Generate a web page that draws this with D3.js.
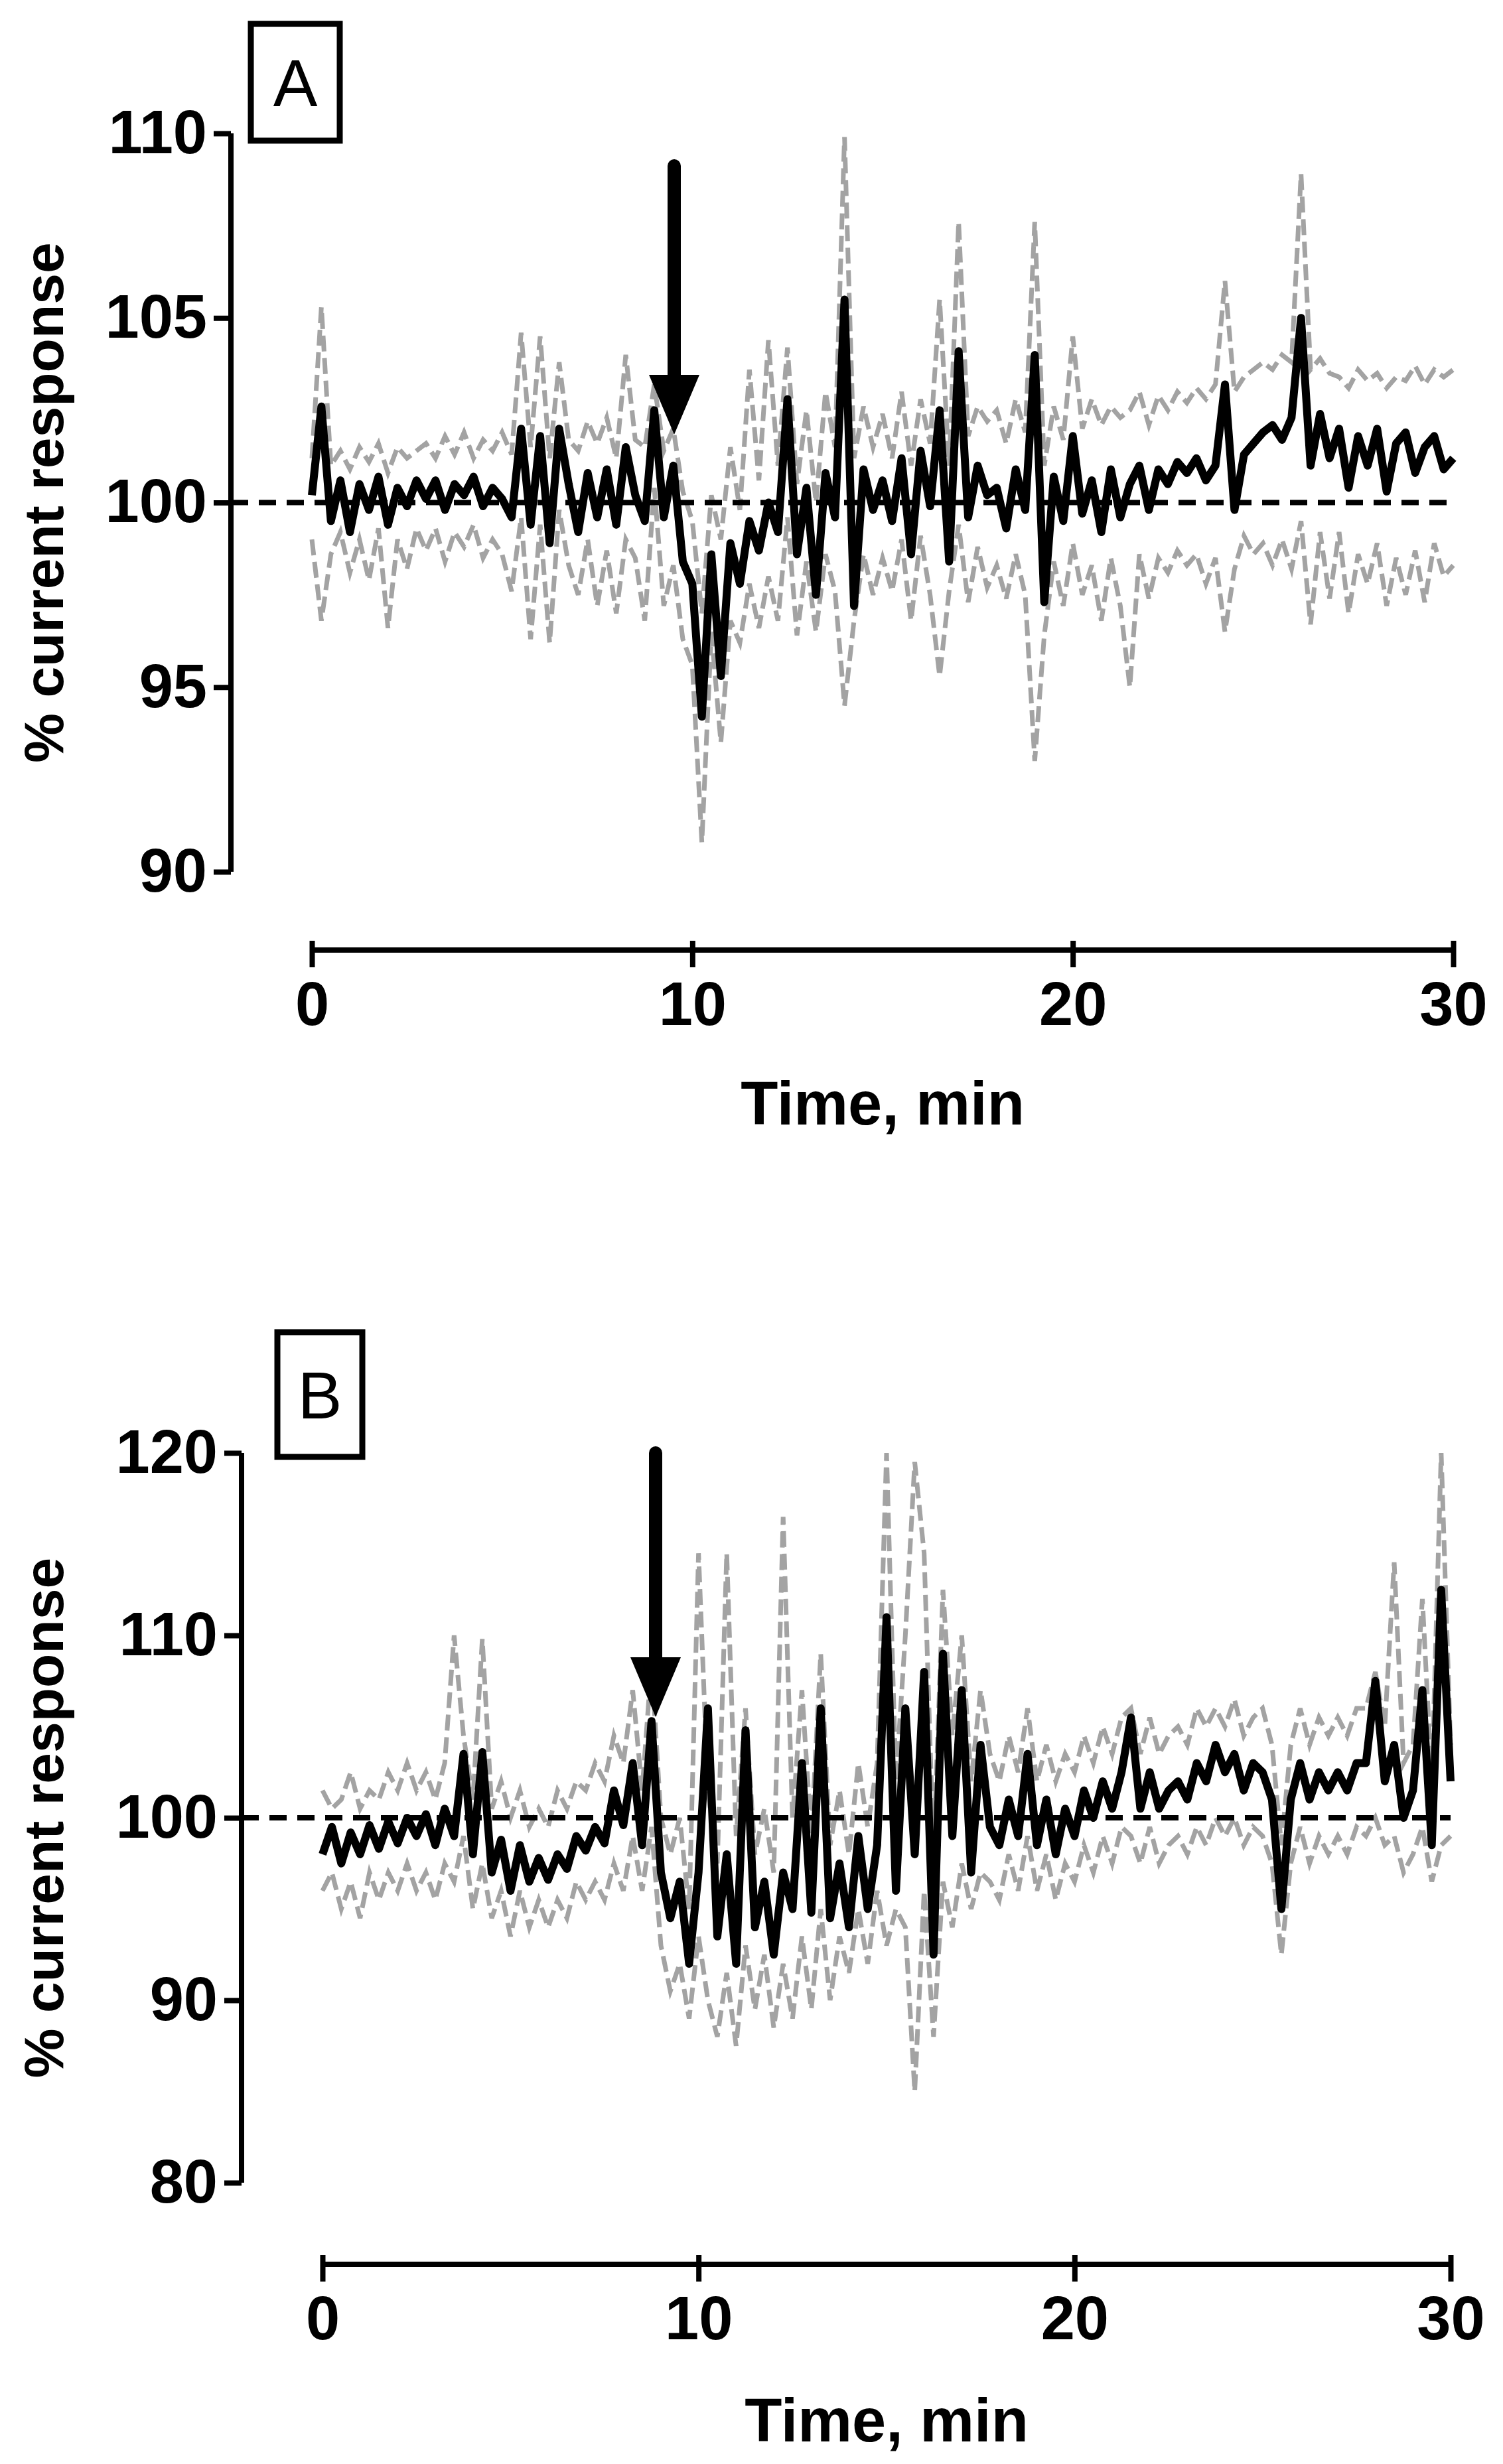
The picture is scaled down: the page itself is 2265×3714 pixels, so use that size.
<!DOCTYPE html>
<html><head><meta charset="utf-8">
<script src="https://cdn.jsdelivr.net/npm/d3@7"></script>
<style>body{margin:0;background:#fff}</style></head>
<body><svg id="c" width="2265" height="3714"></svg>
<script>
const timeStep = 0.25;
const meanA = [100.2,102.6,99.5,100.6,99.2,100.5,99.8,100.7,99.4,100.4,99.9,100.6,
100.1,100.6,99.8,100.5,100.2,100.7,99.9,100.4,100.1,99.6,102.0,99.4,
101.8,98.9,102.0,100.5,99.2,100.8,99.6,100.9,99.4,101.5,100.2,99.5,
102.5,99.6,101.0,98.4,97.8,94.2,98.6,95.3,98.9,97.8,99.5,98.7,
100.0,99.2,102.8,98.6,100.4,97.5,100.8,99.6,105.5,97.2,100.9,99.8,
100.6,99.5,101.2,98.6,101.4,99.9,102.5,98.4,104.1,99.6,101.0,100.2,
100.4,99.3,100.9,99.8,104.0,97.3,100.7,99.5,101.8,99.7,100.6,99.2,
100.9,99.6,100.5,101.0,99.8,100.9,100.5,101.1,100.8,101.2,100.6,101.0,
103.2,99.8,101.3,101.6,101.9,102.1,101.7,102.3,105.0,101.0,102.4,101.2,
102.0,100.4,101.8,101.0,102.0,100.3,101.6,101.9,100.8,101.5,101.8,100.9,101.2];
const upperA = [101.2,105.3,101.0,101.4,100.9,101.5,101.1,101.6,100.8,101.5,101.2,101.4,
101.6,101.2,101.8,101.3,101.9,101.2,101.7,101.4,101.9,101.3,104.6,101.5,
104.5,101.2,103.8,101.7,101.4,102.2,101.6,102.3,101.2,104.0,101.7,101.5,
103.2,101.4,102.0,100.3,99.5,97.0,100.2,99.0,101.5,99.8,103.6,100.6,
104.4,101.0,104.2,100.5,102.5,100.0,103.0,101.5,109.9,101.2,102.6,101.5,
102.4,101.2,103.0,101.0,102.8,101.6,105.5,101.0,107.6,101.8,102.6,102.2,
102.5,101.6,102.8,101.9,107.6,101.0,102.6,101.7,104.5,102.0,102.8,102.1,
102.6,102.3,102.5,103.0,102.1,102.9,102.5,103.0,102.7,103.1,102.8,103.2,
106.0,103.0,103.4,103.6,103.8,103.6,104.0,103.8,108.9,103.6,103.9,103.5,
103.4,103.1,103.6,103.3,103.5,103.1,103.4,103.3,103.7,103.2,103.6,103.4,103.6];
const lowerA = [99.0,96.8,98.6,99.2,98.1,99.0,97.9,99.3,96.6,99.0,98.2,99.3,
98.7,99.3,98.4,99.2,98.8,99.4,98.5,99.0,98.6,97.6,99.6,96.3,
99.4,96.2,99.8,98.3,97.5,99.0,97.2,98.7,97.0,99.0,98.5,96.8,
100.4,97.2,98.3,96.3,95.6,90.8,96.5,93.5,96.8,96.2,97.8,96.6,
98.0,96.8,99.6,96.4,98.4,96.5,98.6,97.6,94.5,96.8,98.6,97.5,
98.5,97.6,99.0,96.8,99.1,97.5,95.3,97.6,99.4,97.3,98.8,97.7,
98.3,97.4,98.6,97.5,93.0,96.4,98.4,97.2,98.9,97.5,98.3,96.8,
98.5,97.2,95.0,98.6,97.4,98.5,98.1,98.7,98.3,98.6,97.8,98.5,
96.5,98.2,99.1,98.6,98.9,98.3,99.0,98.2,99.5,96.7,99.2,97.4,
99.2,97.0,98.6,97.8,98.9,97.2,98.5,97.5,98.7,97.3,98.9,98.0,98.3];
const meanB = [98.0,99.5,97.5,99.2,98.0,99.6,98.3,99.8,98.6,100.0,99.0,100.2,
98.5,100.5,99.0,103.5,98.0,103.6,97.0,98.8,96.0,98.5,96.5,97.8,
96.6,98.0,97.2,99.0,98.2,99.5,98.6,101.5,99.6,103.0,98.5,105.3,
97.0,94.5,96.5,92.0,97.0,106.0,93.5,98.0,92.0,104.8,94.0,96.5,
92.5,97.0,95.0,103.0,94.8,106.0,94.5,97.5,94.0,99.0,95.0,98.5,
111.0,96.0,106.0,98.0,108.0,92.5,109.0,99.0,107.0,97.0,104.0,99.5,
98.5,101.0,99.0,103.5,98.5,101.0,98.0,100.5,99.0,101.5,100.0,102.0,
100.5,102.5,105.5,100.5,102.5,100.5,101.5,102.0,101.0,103.0,102.0,104.0,
102.5,103.5,101.5,103.0,102.5,101.0,95.0,101.0,103.0,101.0,102.5,101.5,
102.5,101.5,103.0,103.0,107.5,102.0,104.0,100.0,101.5,107.0,98.5,112.5,102.0];
const upperB = [101.5,100.5,101.0,102.5,100.5,101.5,101.0,102.5,101.5,103.0,101.5,102.5,
101.0,103.0,110.0,104.5,101.0,109.8,100.5,102.0,100.0,101.5,99.5,100.5,
99.5,101.5,100.5,102.0,101.5,103.0,102.0,104.5,103.0,107.0,101.5,108.5,
100.0,98.0,100.0,95.0,114.5,101.5,97.5,114.5,99.0,106.0,98.0,100.5,
97.0,116.5,100.0,107.0,99.0,109.0,98.5,101.5,98.0,103.0,99.5,103.0,
120.0,102.0,110.0,119.5,114.5,98.0,112.5,104.5,110.0,102.0,107.0,103.5,
102.0,104.5,102.5,106.0,102.0,104.0,102.0,103.5,102.5,104.5,103.0,105.0,
103.5,105.5,106.0,103.5,105.5,103.5,104.5,105.0,104.0,106.0,105.0,106.0,
105.0,106.5,104.5,105.5,106.0,104.0,98.5,104.0,106.0,104.0,105.5,104.5,
105.5,104.5,106.0,106.0,108.0,105.0,114.0,103.0,104.0,112.0,102.0,120.0,104.0];
const lowerB = [96.0,97.0,95.0,96.5,94.5,97.0,95.5,97.0,96.0,97.5,96.0,97.0,
95.5,97.5,96.5,99.0,95.0,97.5,94.5,96.0,93.5,96.0,94.0,95.5,
94.0,95.5,94.5,96.5,95.5,96.5,95.5,97.5,96.0,99.0,96.0,99.5,
93.0,90.5,92.0,89.0,93.5,90.0,88.0,91.5,87.5,93.0,89.5,92.5,
88.5,92.0,89.0,93.5,89.5,95.0,90.0,93.5,91.5,95.0,92.0,96.0,
93.0,95.0,94.0,85.0,96.0,88.0,96.5,94.0,97.5,95.0,97.0,96.5,
95.5,98.0,96.0,99.0,96.0,98.0,95.5,97.5,96.5,98.5,97.0,99.0,
97.5,99.5,99.0,97.5,99.5,97.5,98.5,99.0,98.0,99.5,98.5,100.0,
99.0,100.0,98.5,99.5,99.0,97.5,92.5,97.5,99.5,97.5,99.0,98.0,
99.0,98.0,99.5,99.0,100.0,98.5,99.0,97.0,98.0,99.5,96.5,98.5,99.0];
const xTicks = [0,10,20,30];
const yTicksA = [90,95,100,105,110];
const yTicksB = [80,90,100,110,120];

const svg = d3.select("#c");
const tickFont = "'Liberation Sans Narrow','Arial Narrow',sans-serif";
const titleFont = "'Liberation Sans',Arial,sans-serif";

function panel(o){
  const x = d3.scaleLinear().domain([0,30]).range([o.x0,o.x1]);
  const y = d3.scaleLinear().domain(o.yDom).range([o.yBot,o.yTop]);
  const g = svg.append("g");
  const line = d3.line().x((d,i)=>x(i*timeStep)).y(d=>y(d));
  [o.upper,o.lower].forEach(s=>g.append("path").attr("d",line(s)).attr("fill","none")
     .attr("stroke","#a3a3a3").attr("stroke-width",7).attr("stroke-dasharray","24,10"));
  g.append("path").attr("d",line(o.mean)).attr("fill","none").attr("stroke","#000")
   .attr("stroke-width",12).attr("stroke-linejoin","round");
  g.append("line").attr("x1",o.yAxisX).attr("x2",x(30)).attr("y1",y(100)).attr("y2",y(100))
   .attr("stroke","#000").attr("stroke-width",8).attr("stroke-dasharray","26,16");
  const ya = g.append("g").attr("transform",`translate(${o.yAxisX},0)`)
    .call(d3.axisLeft(y).tickValues(o.yTicks).tickSize(26).tickPadding(10).tickFormat(d3.format("d")));
  ya.select(".domain").attr("stroke-width",8).attr("d",`M0,${y(o.yDom[0])}V${y(o.yDom[1])}`);
  ya.selectAll(".tick line").attr("stroke-width",8);
  ya.selectAll("text").attr("font-family",tickFont).attr("font-weight","bold").attr("font-size",92).attr("fill","#000");
  const xa = g.append("g").attr("transform",`translate(0,${o.xAxisY})`)
    .call(d3.axisBottom(x).tickValues(xTicks).tickSize(26).tickPadding(22));
  xa.select(".domain").attr("stroke-width",8).attr("d",`M${x(0)},0H${x(30)}`);
  xa.selectAll(".tick line").attr("stroke-width",8).attr("y1",-14);
  xa.selectAll("text").attr("font-family",tickFont).attr("font-weight","bold").attr("font-size",92).attr("fill","#000");
  g.append("text").attr("x",(x(0)+x(30))/2).attr("y",o.xTitleY).attr("text-anchor","middle")
   .attr("font-family",tickFont).attr("font-weight","bold").attr("font-size",92).text("Time, min");
  g.append("text").attr("transform",`translate(${o.yTitleX},${(y(o.yDom[0])+y(o.yDom[1]))/2}) rotate(-90)`)
   .attr("text-anchor","middle").attr("font-family",titleFont).attr("font-weight","bold")
   .attr("font-size",84).text("% current response");
  g.append("rect").attr("x",o.box[0]).attr("y",o.box[1]).attr("width",o.box[2]).attr("height",o.box[3])
   .attr("fill","#fff").attr("stroke","#000").attr("stroke-width",9);
  g.append("text").attr("x",o.box[0]+o.box[2]/2).attr("y",o.box[1]+o.box[3]/2+36).attr("text-anchor","middle")
   .attr("font-family",titleFont).attr("font-size",100).text(o.label);
  g.append("line").attr("x1",o.arrow[0]).attr("x2",o.arrow[0]).attr("y1",o.arrow[1]).attr("y2",o.arrow[2]-70)
   .attr("stroke","#000").attr("stroke-width",20).attr("stroke-linecap","round");
  g.append("path").attr("d",`M${o.arrow[0]-38},${o.arrow[2]-90}L${o.arrow[0]+38},${o.arrow[2]-90}L${o.arrow[0]},${o.arrow[2]}Z`).attr("fill","#000");
}
panel({x0:470,x1:2190,yDom:[90,110],yTop:201,yBot:1314,yAxisX:348,xAxisY:1432,
  mean:meanA,upper:upperA,lower:lowerA,yTicks:yTicksA,xTitleY:1695,yTitleX:95,
  box:[378,36,134,176],label:"A",arrow:[1016,250,655]});
panel({x0:486,x1:2186,yDom:[80,120],yTop:2190,yBot:3290,yAxisX:364,xAxisY:3413,
  mean:meanB,upper:upperB,lower:lowerB,yTicks:yTicksB,xTitleY:3680,yTitleX:95,
  box:[418,2008,128,188],label:"B",arrow:[988,2190,2588]});
</script></body></html>
